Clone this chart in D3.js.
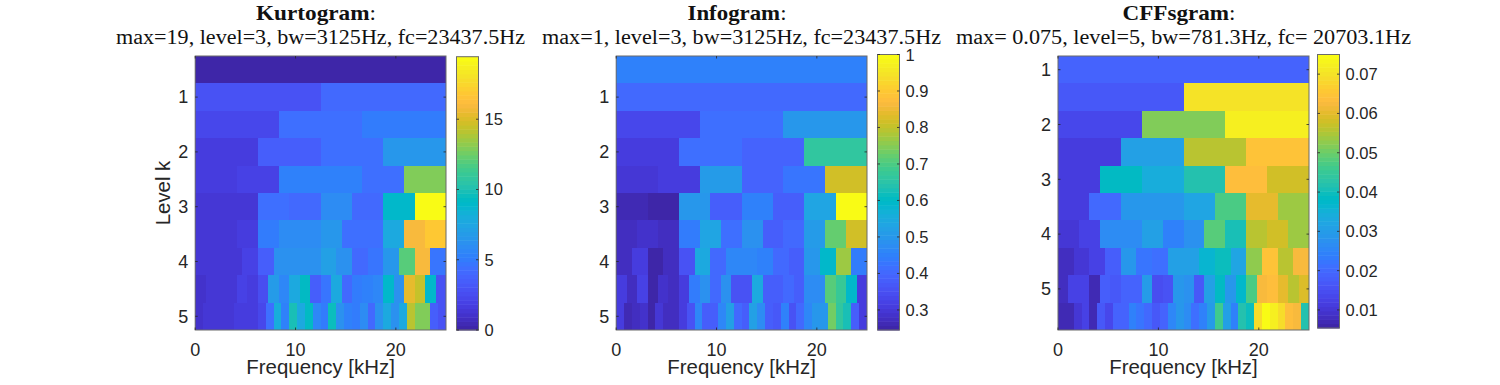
<!DOCTYPE html>
<html><head><meta charset="utf-8">
<script src="https://cdnjs.cloudflare.com/ajax/libs/d3/7.8.5/d3.min.js"></script>
<style>html,body{margin:0;padding:0;background:#fff}svg{display:block}</style>
</head><body><svg id="c" width="1500" height="385"></svg>
<script>
const parula=[[.2422,.1504,.6603],[.2504,.165,.7076],[.2578,.1818,.7511],[.2647,.1978,.7952],[.2706,.2147,.8364],[.2751,.2342,.871],[.2783,.2559,.8991],[.2803,.2782,.9221],[.2813,.3006,.9414],[.281,.3228,.9579],[.2795,.3447,.9717],[.276,.3667,.9829],[.2699,.3892,.9906],[.2602,.4123,.9952],[.244,.4358,.9988],[.2206,.4603,.9973],[.1963,.4847,.9892],[.1834,.5074,.9798],[.1786,.5289,.9682],[.1764,.5499,.952],[.1687,.5703,.9359],[.154,.5902,.9218],[.146,.6091,.9079],[.138,.6276,.8973],[.1248,.6459,.8883],[.1113,.6635,.8763],[.0952,.6798,.8598],[.0689,.6948,.8394],[.0297,.7082,.8163],[.0036,.7203,.7917],[.0067,.7312,.766],[.0433,.7411,.7394],[.0964,.75,.712],[.1408,.7584,.6842],[.1717,.767,.6554],[.1938,.7758,.6251],[.2161,.7843,.5923],[.247,.7918,.5567],[.2906,.7973,.5188],[.3406,.8008,.4789],[.3909,.8029,.4354],[.4456,.8024,.3909],[.5044,.7993,.348],[.5616,.7942,.3045],[.6174,.7876,.2612],[.672,.7793,.2227],[.7242,.7698,.191],[.7738,.7598,.1646],[.8203,.7498,.1535],[.8634,.7406,.1596],[.9035,.733,.1774],[.9393,.7288,.21],[.9728,.7298,.2394],[.9956,.7434,.2371],[.997,.7659,.2199],[.9952,.7861,.1999],[.9892,.8136,.1893],[.9786,.8386,.1766],[.9676,.8639,.1643],[.961,.889,.1537],[.9597,.9135,.1423],[.9628,.9373,.1265],[.9691,.9606,.1064],[.9769,.9839,.0805]]
  .map(c=>d3.rgb(c[0]*255,c[1]*255,c[2]*255).formatHex());

const freqMax=25;
const freqTicks=[0,10,20];
const levelTicks=[1,2,3,4,5];

const kurtogramValues=[
[0.3],
[2.9,4.0],
[2.2,4.5,5.1],
[1.6,3.6,4.5,6.4],
[1.6,2.1,5.2,5.2,4.5,13.0],
[1.3,1.4,4.4,4.1,5.8,4.2,8.9,19.4],
[1.4,1.4,1.8,4.9,6.0,6.0,6.6,4.5,4.5,7.9,16.0,16.9],
[1.4,1.5,1.5,1.9,3.6,6.2,6.2,6.2,7.0,6.3,4.0,4.6,6.6,12.1,16.0,4.7],
[1.2,1.4,1.4,1.5,2.0,1.8,2.5,6.8,5.6,7.8,9.3,3.6,4.8,7.9,4.0,4.9,5.3,5.6,9.0,6.2,15.2,14.4,9.0,3.0],
[1.0,1.3,1.3,1.3,1.5,1.8,1.8,1.6,2.4,4.5,8.2,5.3,9.8,7.8,9.4,5.7,4.9,9.6,6.2,5.4,5.0,5.8,4.0,6.3,7.8,6.3,7.8,14.0,13.0,13.0,3.6,2.8]];
const infogramValues=[
[.449],
[.407,.405],
[.335,.42,.494],
[.31,.42,.396,.66],
[.295,.31,.508,.396,.426,.819],
[.265,.245,.494,.38,.449,.38,.532,1],
[.28,.285,.275,.44,.532,.42,.485,.375,.40,.51,.72,.82],
[.275,.305,.255,.275,.355,.54,.41,.46,.46,.455,.40,.38,.50,.59,.765,.44],
[.315,.28,.32,.25,.29,.275,.305,.44,.49,.40,.49,.355,.36,.54,.375,.38,.41,.385,.48,.48,.71,.68,.59,.315],
[.31,.265,.28,.285,.25,.295,.275,.28,.305,.36,.46,.385,.385,.46,.52,.41,.38,.52,.47,.38,.37,.45,.355,.40,.46,.50,.50,.73,.66,.63,.38,.315]];
const cffsgramValues=[
[.0193],
[.0165,.0701],
[.0135,.0513,.072],
[.0115,.0305,.0562,.0645],
[.0115,.0381,.0346,.0416,.0632,.0583],
[.0115,.02,.0284,.0284,.0325,.0472,.0604,.0534],
[.01,.0128,.027,.027,.0305,.0242,.028,.0486,.0402,.0562,.0583,.0541],
[.008,.01,.0122,.0179,.0284,.0225,.0207,.0305,.0305,.036,.0395,.0325,.0527,.0645,.0562,.0625],
[.0085,.012,.0125,.0075,.0179,.017,.019,.019,.03,.015,.016,.029,.028,.017,.031,.039,.029,.037,.047,.0625,.0635,.06,.056,.059],
[.0075,.0065,.0102,.0122,.007,.0165,.0135,.019,.0195,.024,.022,.02,.0165,.0185,.0255,.0285,.027,.021,.024,.03,.0465,.031,.024,.0415,.0395,.0695,.075,.0725,.0695,.0635,.0625,.0415]];

const kurtogramBarTicks=[0,5,10,15];
const infogramBarTicks=[.3,.4,.5,.6,.7,.8,.9,1];
const cffsgramBarTicks=[.01,.02,.03,.04,.05,.06,.07];

const panels=[
 {title:"Kurtogram",titleW:120,sub:"max=19, level=3, bw=3125Hz, fc=23437.5Hz",subW:409,cx:320.5,vals:kurtogramValues,x0:195.2,x1:446,levelTop:.25,
  dom:[0,19.45],bt:kurtogramBarTicks,fmt:d3.format("d"),bx:456.5,by:[56.7,330],ylabel:true},
 {title:"Infogram",titleW:99,sub:"max=1, level=3, bw=3125Hz, fc=23437.5Hz",subW:399,cx:741.5,vals:infogramValues,x0:616.2,x1:867,levelTop:.25,
  dom:[.245,1],bt:infogramBarTicks,fmt:d=>d===1?"1":d3.format(".1f")(d),bx:877.5,by:[54.5,330]},
 {title:"CFFsgram",titleW:113,sub:"max= 0.075, level=5, bw=781.3Hz, fc= 20703.1Hz",subW:455,cx:1183.5,vals:cffsgramValues,x0:1058,x1:1309,levelTop:.75,
  dom:[.0054,.075],bt:cffsgramBarTicks,fmt:d3.format(".2f"),bx:1317.5,by:[54.5,328]}
];

const svg=d3.select("#c");
const plotTop=56,plotBot=330,barW=22,tick=2.5,ink="#262626",frame="#6b6b6b";
const sans="'Liberation Sans',Arial,sans-serif",serif="'Liberation Serif',serif";

panels.forEach(p=>{
  const g=svg.append("g");
  const x=d3.scaleLinear().domain([0,freqMax]).range([p.x0,p.x1]);
  const yLevel=d3.scaleLinear().domain([p.levelTop,p.levelTop+5]).range([plotTop,plotBot]);
  const yRow=d3.scaleBand().domain(d3.range(p.vals.length)).range([plotTop,plotBot]);
  const color=d3.scaleQuantize().domain(p.dom).range(parula);

  const rows=g.selectAll(".row").data(p.vals).join("g").attr("class","row");
  rows.selectAll("rect").data((r,i)=>r.map((v,j)=>({v,j,n:r.length,i}))).join("rect")
    .attr("x",d=>x(d.j/d.n*freqMax)).attr("width",d=>x((d.j+1)/d.n*freqMax)-x(d.j/d.n*freqMax))
    .attr("y",d=>yRow(d.i)).attr("height",yRow.bandwidth())
    .attr("fill",d=>color(d.v)).attr("shape-rendering","crispEdges");

  g.append("rect").attr("x",p.x0).attr("y",plotTop).attr("width",p.x1-p.x0).attr("height",plotBot-plotTop)
    .attr("fill","none").attr("stroke",frame).attr("stroke-width",1);

  freqTicks.forEach(t=>{
    [[plotBot,plotBot-tick],[plotTop,plotTop+tick]].forEach(a=>g.append("line").attr("x1",x(t)).attr("x2",x(t)).attr("y1",a[0]).attr("y2",a[1]).attr("stroke",ink).attr("stroke-width",.8));
    g.append("text").attr("x",x(t)).attr("y",355.5).attr("text-anchor","middle").attr("font-family",sans).attr("font-size",18).attr("fill",ink).text(t);
  });
  levelTicks.forEach(t=>{
    [[p.x0,p.x0+tick],[p.x1,p.x1-tick]].forEach(a=>g.append("line").attr("y1",yLevel(t)).attr("y2",yLevel(t)).attr("x1",a[0]).attr("x2",a[1]).attr("stroke",ink).attr("stroke-width",.8));
    g.append("text").attr("x",p.x0-7).attr("y",yLevel(t)+6.3).attr("text-anchor","end").attr("font-family",sans).attr("font-size",18).attr("fill",ink).text(t);
  });
  g.append("text").attr("x",(p.x0+p.x1)/2).attr("y",374).attr("text-anchor","middle").attr("font-family",sans).attr("font-size",20.4).attr("fill",ink).text("Frequency [kHz]");
  if(p.ylabel) g.append("text").attr("transform","translate(170,193) rotate(-90)").attr("text-anchor","middle").attr("font-family",sans).attr("font-size",20.4).attr("fill",ink).text("Level k");

  const t1=g.append("text").attr("x",p.cx-4.5).attr("y",20).attr("text-anchor","middle").attr("font-family",serif).attr("font-size",21.5).attr("fill","#111")
    .attr("textLength",p.titleW).attr("lengthAdjust","spacingAndGlyphs");
  t1.append("tspan").attr("font-weight","bold").text(p.title);
  t1.append("tspan").text(":");
  g.append("text").attr("x",p.cx).attr("y",44).attr("text-anchor","middle").attr("font-family",serif).attr("font-size",20.5).attr("fill","#111")
    .attr("textLength",p.subW).attr("lengthAdjust","spacingAndGlyphs").text(p.sub);

  const yBar=d3.scaleLinear().domain(p.dom).range([p.by[1],p.by[0]]);
  const step=(p.dom[1]-p.dom[0])/parula.length;
  g.selectAll(".bar").data(parula).join("rect").attr("class","bar")
    .attr("x",p.bx).attr("width",barW).attr("y",(c,i)=>yBar(p.dom[0]+(i+1)*step)).attr("height",(p.by[1]-p.by[0])/parula.length+.5).attr("fill",c=>c);
  g.append("rect").attr("x",p.bx).attr("y",p.by[0]).attr("width",barW).attr("height",p.by[1]-p.by[0]).attr("fill","none").attr("stroke",frame).attr("stroke-width",1);
  p.bt.forEach(t=>{
    [[p.bx,p.bx+tick],[p.bx+barW,p.bx+barW-tick]].forEach(a=>g.append("line").attr("y1",yBar(t)).attr("y2",yBar(t)).attr("x1",a[0]).attr("x2",a[1]).attr("stroke",ink).attr("stroke-width",.8));
    g.append("text").attr("x",p.bx+barW+6).attr("y",yBar(t)+6).attr("font-family",sans).attr("font-size",16.5).attr("fill",ink).text(p.fmt(t));
  });
});
</script></body></html>
